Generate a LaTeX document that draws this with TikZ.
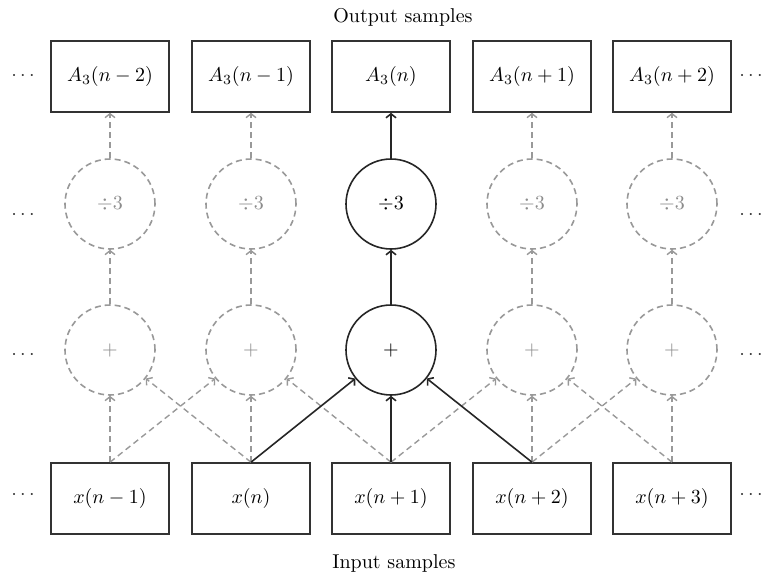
\documentclass[tikz,border=0pt]{standalone}
\usetikzlibrary{arrows.meta}
\begin{document}
\begin{tikzpicture}[x=0.5pt,y=-0.5pt,
  box/.style={draw=black!80,line width=0.8pt,minimum width=59pt,minimum height=35.5pt,inner sep=0pt},
  opc/.style={circle,draw=black!85,line width=0.8pt,minimum size=45pt,inner sep=0pt},
  ghost/.style={circle,draw=black!40,text=black!45,line width=0.8pt,dash pattern=on 3pt off 2pt,minimum size=45pt,inner sep=0pt},
  tip/.style={-{Straight Barb[length=2pt,width=5pt]}},
  solidarr/.style={tip,draw=black!85,line width=0.8pt},
  dasharr/.style={tip,draw=black!40,line width=0.7pt,dash pattern=on 3pt off 2pt},
  dots/.style={inner sep=0pt,text=black!80}]
\useasboundingbox (0,0) rectangle (762,573);
% top boxes
\node[box] (t1) at (110,76.5) {$A_3(n-2)$};
\node[box] (t2) at (251,76.5) {$A_3(n-1)$};
\node[box] (t3) at (391,76.5) {$A_3(n)$};
\node[box] (t4) at (532,76.5) {$A_3(n+1)$};
\node[box] (t5) at (672,76.5) {$A_3(n+2)$};
% bottom boxes
\node[box] (b1) at (110,498.5) {$x(n-1)$};
\node[box] (b2) at (251,498.5) {$x(n)$};
\node[box] (b3) at (391,498.5) {$x(n+1)$};
\node[box] (b4) at (532,498.5) {$x(n+2)$};
\node[box] (b5) at (672,498.5) {$x(n+3)$};
% division circles
\node[ghost] (d1) at (110,204) {$\div 3$};
\node[ghost] (d2) at (251,204) {$\div 3$};
\node[opc]   (d3) at (391,204) {$\div 3$};
\node[ghost] (d4) at (532,204) {$\div 3$};
\node[ghost] (d5) at (672,204) {$\div 3$};
% adder circles
\node[ghost] (p1) at (110,350) {$+$};
\node[ghost] (p2) at (251,350) {$+$};
\node[opc]   (p3) at (391,350) {$+$};
\node[ghost] (p4) at (532,350) {$+$};
\node[ghost] (p5) at (672,350) {$+$};
% labels
\node[anchor=west,inner sep=0pt] (out) at (333,17) {Output samples};
\node[anchor=west,inner sep=0pt] (in) at (332,563) {Input samples};
% dots
\node[dots] (l1) at (23,76) {$\cdots$};
\node[dots] (l2) at (23,215) {$\cdots$};
\node[dots] (l3) at (23,355) {$\cdots$};
\node[dots] (l4) at (23,495) {$\cdots$};
\node[dots] (r1) at (751,76) {$\cdots$};
\node[dots] (r2) at (751,215) {$\cdots$};
\node[dots] (r3) at (751,355) {$\cdots$};
\node[dots] (r4) at (751,495) {$\cdots$};
% dashed connections
\foreach \c in {1,2,4,5}{
  \draw[dasharr] (d\c) -- (t\c);
  \draw[dasharr] (p\c) -- (d\c);
}
\draw[dasharr] (b1.north) -- (p1);
\draw[dasharr] (b1.north) -- (p2);
\draw[dasharr] (b2.north) -- (p1);
\draw[dasharr] (b2.north) -- (p2);
\draw[dasharr] (b3.north) -- (p2);
\draw[dasharr] (b3.north) -- (p4);
\draw[dasharr] (b4.north) -- (p4);
\draw[dasharr] (b4.north) -- (p5);
\draw[dasharr] (b5.north) -- (p4);
\draw[dasharr] (b5.north) -- (p5);
% solid path
\draw[solidarr] (d3) -- (t3);
\draw[solidarr] (p3) -- (d3);
\draw[solidarr] (b2.north) -- (p3);
\draw[solidarr] (b3.north) -- (p3);
\draw[solidarr] (b4.north) -- (p3);
\end{tikzpicture}
\end{document}
